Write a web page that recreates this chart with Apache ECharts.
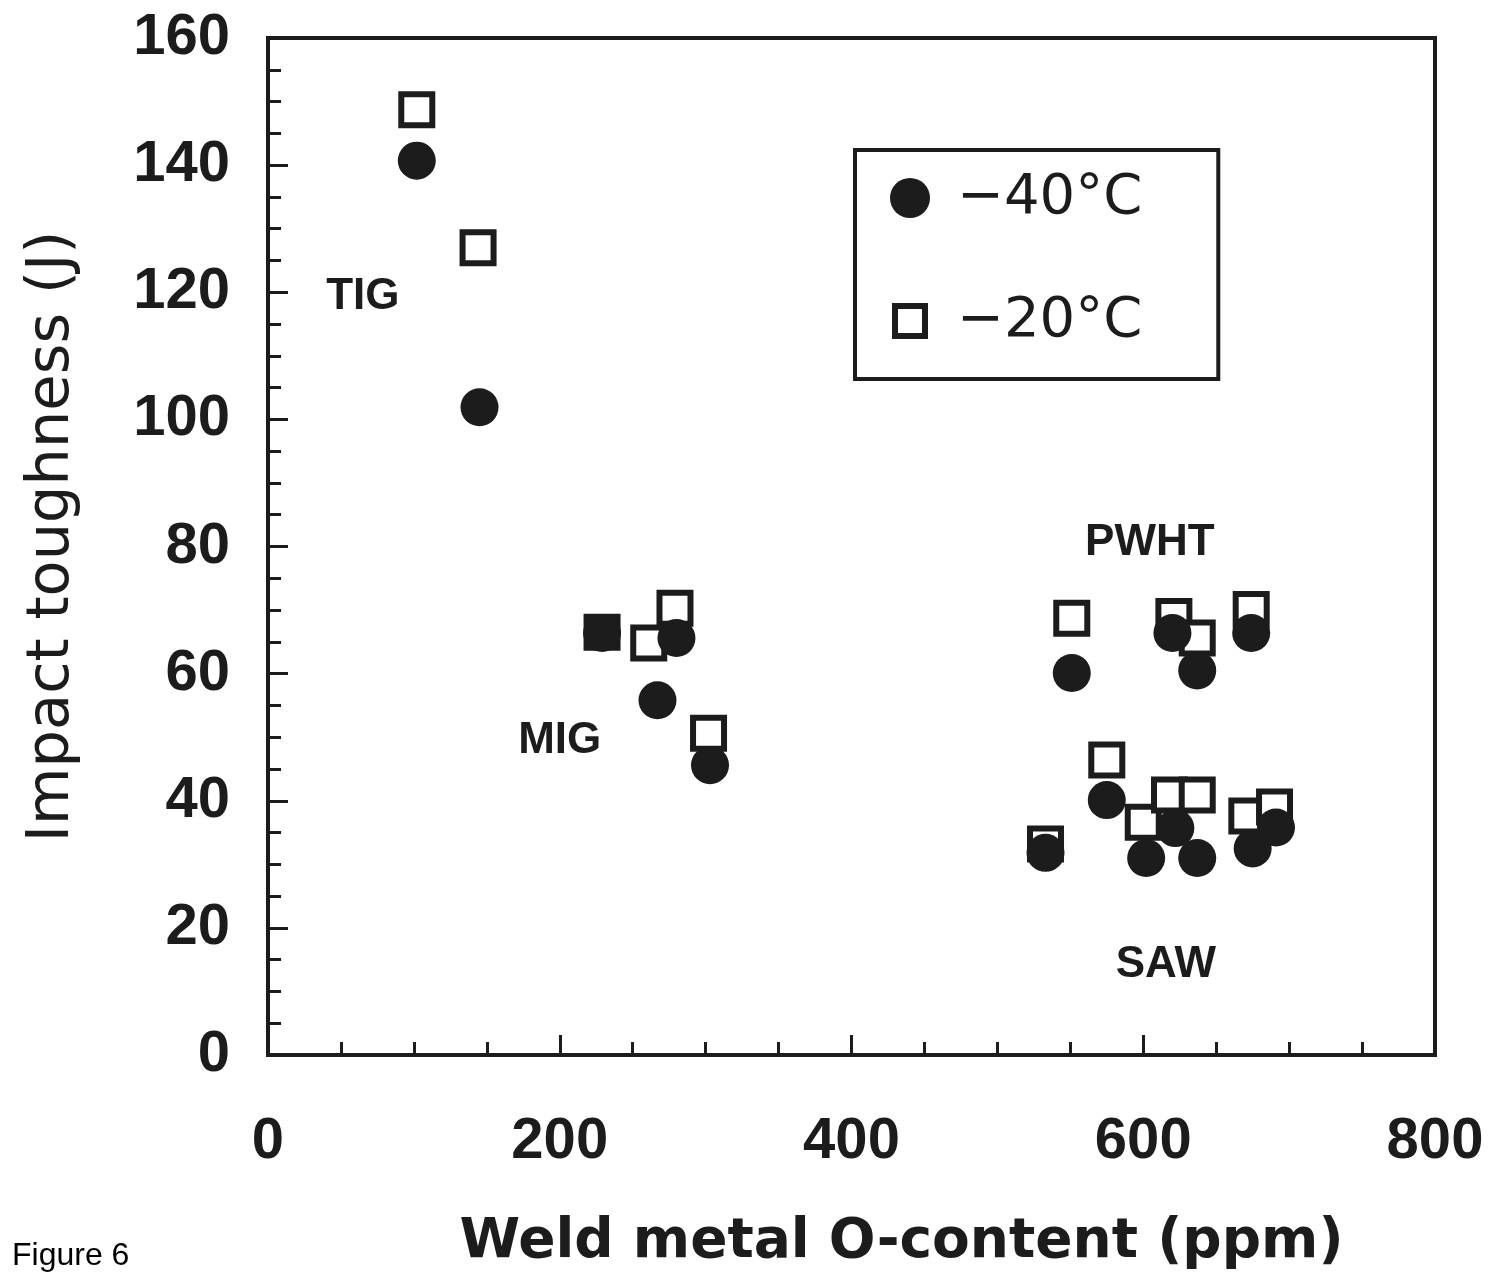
<!DOCTYPE html>
<html>
<head>
<meta charset="utf-8">
<script src="https://cdn.jsdelivr.net/npm/echarts@6/dist/echarts.min.js"></script>
<style>
html,body{margin:0;padding:0;background:#fff;}
#chart{width:1493px;height:1281px;}
</style>
</head>
<body>
<div id="chart"></div>
<script>
// ---- data ----
const seriesNames = ['\u221240\u00b0C', '\u221220\u00b0C'];
// -40°C (filled circles): weld metal O-content (ppm), impact toughness (J)
const oxygenM40 = [102, 145, 229, 267, 280, 303, 533, 551, 620, 637, 674, 575, 602, 622, 637, 675, 691];
const toughM40  = [140.7, 101.9, 66.4, 55.8, 65.6, 45.6, 31.8, 60.1, 66.4, 60.5, 66.4, 40.1, 31.0, 35.7, 31.0, 32.5, 35.8];
// -20°C (open squares)
const oxygenM20 = [102, 144, 229, 261, 279, 302, 533, 551, 621, 637, 674, 575, 600, 618, 637, 671, 690];
const toughM20  = [148.7, 127.0, 66.5, 64.8, 70.3, 50.6, 33.2, 68.7, 69.0, 65.6, 70.1, 46.4, 36.6, 40.9, 40.9, 37.6, 39.0];
// group annotations
const groupLabels = ['TIG', 'MIG', 'PWHT', 'SAW'];
const groupX = [65, 200, 604.5, 615.5];
const groupY = [119.2, 49.4, 80.5, 14.2];

const FONT = "'Liberation Sans', Arial, Helvetica, sans-serif";
const WIDE = "'DejaVu Sans', 'Liberation Sans', Arial, sans-serif";
const INK = '#1c1c1c';

const zip = (a, b) => a.map((v, i) => [v, b[i]]);

const chart = echarts.init(document.getElementById('chart'), null, {renderer: 'canvas'});
chart.setOption({
  backgroundColor: '#ffffff',
  animation: false,
  grid: {left: 268, right: 58, top: 38, bottom: 226, show: true, borderColor: INK, borderWidth: 4, backgroundColor: 'transparent'},
  xAxis: {
    type: 'value', min: 0, max: 800, interval: 200,
    name: 'Weld metal O-content (ppm)', nameLocation: 'middle', nameGap: 160,
    nameTextStyle: {fontFamily: WIDE, fontSize: 55, fontWeight: 'bold', color: INK, padding: [0, 0, 0, 100]},
    axisLine: {show: true, lineStyle: {color: INK, width: 4}},
    axisTick: {show: true, inside: true, length: 20, lineStyle: {color: INK, width: 3}},
    minorTick: {show: true, splitNumber: 4, length: 13, lineStyle: {color: INK, width: 3}},
    splitLine: {show: false},
    axisLabel: {fontFamily: FONT, fontSize: 58, fontWeight: 'bold', color: INK, margin: 58}
  },
  yAxis: {
    type: 'value', min: 0, max: 160, interval: 20,
    name: 'Impact toughness (J)', nameLocation: 'middle', nameGap: 186,
    nameTextStyle: {fontFamily: WIDE, fontSize: 59, color: INK, padding: [0, 0, 0, 20]},
    axisLine: {show: true, lineStyle: {color: INK, width: 4}},
    axisTick: {show: true, inside: true, length: 20, lineStyle: {color: INK, width: 3}},
    minorTick: {show: true, splitNumber: 4, length: 13, lineStyle: {color: INK, width: 3}},
    splitLine: {show: false},
    axisLabel: {fontFamily: FONT, fontSize: 58, fontWeight: 'bold', color: INK, margin: 38}
  },
  legend: {
    orient: 'vertical', left: 855, top: 150,
    data: [
      {name: seriesNames[0], icon: 'circle'},
      {name: seriesNames[1], icon: 'path://M0,0M40,40M5,5h30v30h-30z', itemStyle: {color: '#fff', borderColor: INK, borderWidth: 6}}
    ],
    borderColor: INK, borderWidth: 4, backgroundColor: '#fff',
    padding: [18, 76, 28, 32],
    itemWidth: 40, itemHeight: 40, itemGap: 63,
    textStyle: {fontFamily: WIDE, fontSize: 56, color: INK, lineHeight: 60, padding: [0, 0, 0, 22]}
  },
  series: [
    {
      name: seriesNames[1], type: 'scatter', symbol: 'rect', symbolSize: 31, z: 2,
      itemStyle: {color: '#fff', borderColor: INK, borderWidth: 6, opacity: 1},
      data: zip(oxygenM20, toughM20)
    },
    {
      name: seriesNames[0], type: 'scatter', symbol: 'circle', symbolSize: 38, z: 3,
      itemStyle: {color: INK, opacity: 1},
      data: zip(oxygenM40, toughM40)
    },
    {
      name: 'groups', type: 'scatter', symbolSize: 0, z: 4, silent: true,
      itemStyle: {opacity: 1, color: INK},
      label: {show: true, position: 'inside', formatter: p => groupLabels[p.dataIndex],
        fontFamily: FONT, fontSize: 44, fontWeight: 'bold', color: INK, opacity: 1},
      data: zip(groupX, groupY)
    }
  ],
  graphic: [
    {type: 'text', left: 12, top: 1240, style: {text: 'Figure 6', font: "32px " + FONT, fill: '#000'}}
  ]
});
</script>
</body>
</html>
